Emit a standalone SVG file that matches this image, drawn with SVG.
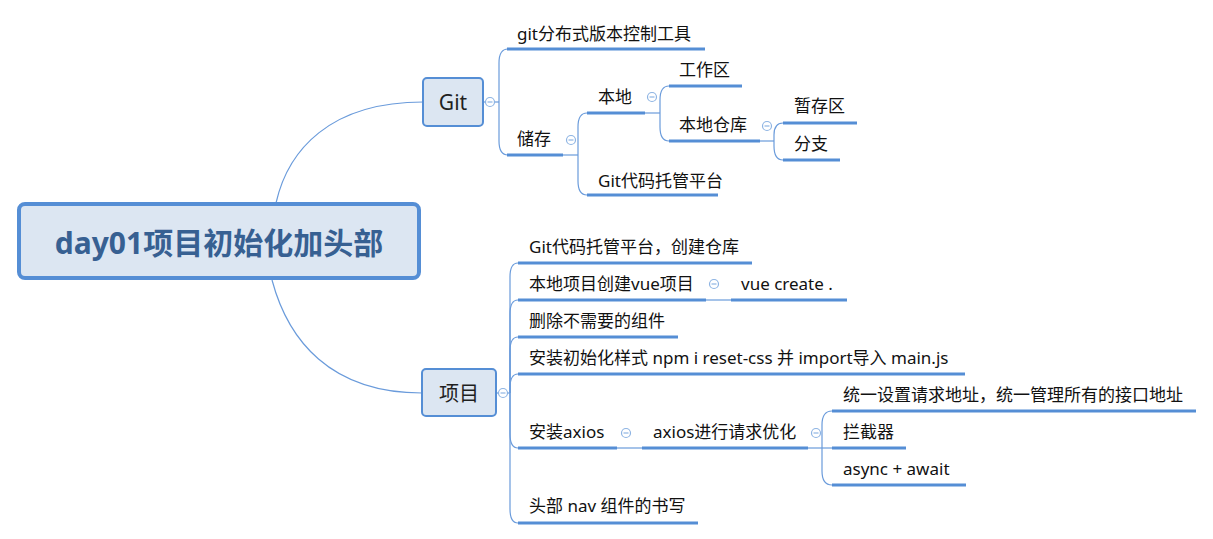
<svg xmlns="http://www.w3.org/2000/svg" width="1213" height="539" viewBox="0 0 1213 539">
<style>
.t{font-family:"Noto Sans","Noto Sans CJK SC",sans-serif;font-size:17px;fill:#111}
.ul{stroke:#558ED5;stroke-width:3;fill:none}
.cn{stroke:#6A9BDB;stroke-width:1.2;fill:none}
.box{fill:#DCE6F2;stroke:#558ED5}
</style>
<defs>
<g id="minus"><circle r="4.5" fill="#fff" stroke="#8EB4E3" stroke-width="1.2"/><path d="M-2.5,0H2.5" stroke="#8EB4E3" stroke-width="1.2"/></g>
</defs>
<rect width="1213" height="539" fill="#fff"/>
<g id="connectors">
<path class="cn" d="M276,203 C288,150 330,102 423,102"/>
<path class="cn" d="M272,280 C288,340 330,393 422,393"/>
<path class="cn" d="M483,102 L499,102"/>
<path class="cn" d="M499,102 L499,63 Q499,49 508,49"/>
<path class="cn" d="M499,102 L499,141 Q499,155 508,155"/>
<path class="cn" d="M563,155 L578,155"/>
<path class="cn" d="M578,155 L578,127 Q578,113 587,113"/>
<path class="cn" d="M578,155 L578,181 Q578,195 587,195"/>
<path class="cn" d="M645,113 L660,113"/>
<path class="cn" d="M660,113 L660,100 Q660,86 669,86"/>
<path class="cn" d="M660,113 L660,127 Q660,141 669,141"/>
<path class="cn" d="M760,141 L774,141"/>
<path class="cn" d="M774,141 L774,135 Q774,123 783,123"/>
<path class="cn" d="M774,141 L774,146 Q774,160 783,160"/>
<path class="cn" d="M496,393 L510,393"/>
<path class="cn" d="M510,393 L510,277 Q510,263 518,263"/>
<path class="cn" d="M510,393 L510,314 Q510,300 518,300"/>
<path class="cn" d="M510,393 L510,351 Q510,337 518,337"/>
<path class="cn" d="M510,393 L510,388 Q510,374 518,374"/>
<path class="cn" d="M510,393 L510,434 Q510,448 518,448"/>
<path class="cn" d="M510,393 L510,509 Q510,523 518,523"/>
<path class="cn" d="M706,300 L731,300"/>
<path class="cn" d="M617,448 L642,448"/>
<path class="cn" d="M808,448 L832,448"/>
<path class="cn" d="M822,448 L822,425 Q822,411 832,411"/>
<path class="cn" d="M822,448 L822,471 Q822,485 832,485"/>
</g>
<g id="root">
<rect class="box" x="19" y="204" width="400" height="74" rx="6" stroke-width="4"/>
<text x="219" y="254" text-anchor="middle" font-family="Noto Sans,Noto Sans CJK SC,sans-serif" font-size="30" font-weight="bold" fill="#376092">day01项目初始化加头部</text>
</g>
<g id="git">
<rect class="box" x="423" y="78" width="60" height="48" rx="4" stroke-width="2"/>
<text x="453" y="110" text-anchor="middle" font-family="Noto Sans,sans-serif" font-size="21" fill="#1F1F1F">Git</text>
<use href="#minus" x="490" y="102"/>
</g>
<g id="n-git-tool"><path class="ul" d="M507,49H705"/><text class="t" x="517" y="40">git分布式版本控制工具</text></g>
<g id="n-store"><path class="ul" d="M507,155H563"/><text class="t" x="517" y="145">储存</text><use href="#minus" x="571" y="140"/></g>
<g id="n-local"><path class="ul" d="M587,113H645"/><text class="t" x="598" y="103">本地</text><use href="#minus" x="652" y="97"/></g>
<g id="n-host"><path class="ul" d="M587,195H718"/><text class="t" x="598" y="187">Git代码托管平台</text></g>
<g id="n-work"><path class="ul" d="M669,86H742"/><text class="t" x="679" y="76">工作区</text></g>
<g id="n-repo"><path class="ul" d="M669,141H760"/><text class="t" x="679" y="131">本地仓库</text><use href="#minus" x="767" y="126"/></g>
<g id="n-stage"><path class="ul" d="M783,123H857"/><text class="t" x="794" y="112">暂存区</text></g>
<g id="n-branch"><path class="ul" d="M783,160H840"/><text class="t" x="794" y="150">分支</text></g>
<g id="project">
<rect class="box" x="422" y="369" width="74" height="47" rx="4" stroke-width="2"/>
<text x="459" y="401" text-anchor="middle" font-family="Noto Sans CJK SC,sans-serif" font-size="20" fill="#1F1F1F">项目</text>
<use href="#minus" x="503" y="393"/>
</g>
<g id="p1"><path class="ul" d="M518,263H752"/><text class="t" x="529" y="253">Git代码托管平台，创建仓库</text></g>
<g id="p2"><path class="ul" d="M518,300H706"/><text class="t" x="529" y="290">本地项目创建vue项目</text><use href="#minus" x="714" y="284"/></g>
<g id="p2a"><path class="ul" d="M731,300H847"/><text class="t" x="741" y="290">vue create .</text></g>
<g id="p3"><path class="ul" d="M518,337H678"/><text class="t" x="529" y="327">删除不需要的组件</text></g>
<g id="p4"><path class="ul" d="M518,374H965"/><text class="t" x="529" y="364">安装初始化样式 npm i reset-css 并 import导入 main.js</text></g>
<g id="p5"><path class="ul" d="M518,448H617"/><text class="t" x="529" y="438">安装axios</text><use href="#minus" x="626" y="433"/></g>
<g id="p5a"><path class="ul" d="M642,448H808"/><text class="t" x="653" y="438">axios进行请求优化</text><use href="#minus" x="816" y="433"/></g>
<g id="p5a1"><path class="ul" d="M832,411H1196"/><text class="t" x="843" y="401">统一设置请求地址，统一管理所有的接口地址</text></g>
<g id="p5a2"><path class="ul" d="M832,448H906"/><text class="t" x="843" y="438">拦截器</text></g>
<g id="p5a3"><path class="ul" d="M832,485H966"/><text class="t" x="843" y="475">async + await</text></g>
<g id="p6"><path class="ul" d="M518,523H698"/><text class="t" x="529" y="512">头部 nav 组件的书写</text></g>
</svg>
